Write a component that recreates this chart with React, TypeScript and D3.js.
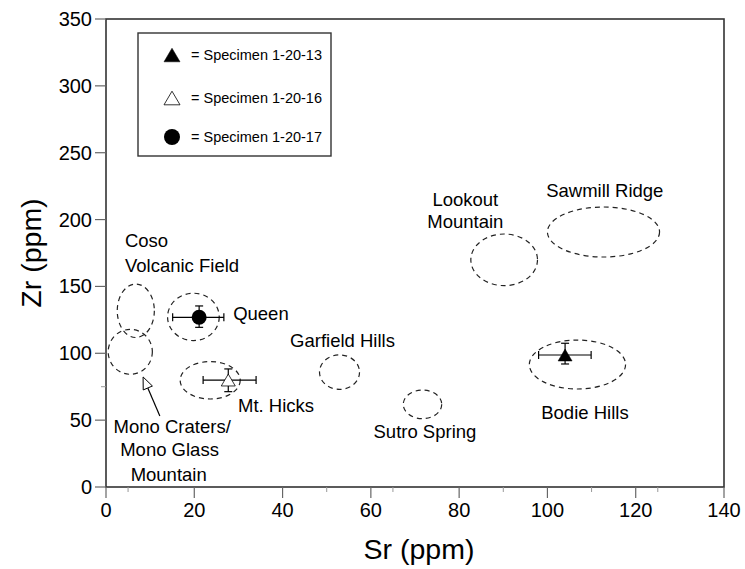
import React from "react";
import * as d3 from "d3";

const W = 745, H = 569;
const margin = { left: 106, right: 21, top: 19, bottom: 82 };

const xTicks = [0, 20, 40, 60, 80, 100, 120, 140];
const yTicks = [0, 50, 100, 150, 200, 250, 300, 350];
const xMinorTicks = [5, 50, 65, 90, 110, 125];
const yMinorTicks = [75];

// Source fields (dashed ellipses): center Sr, center Zr, radius Sr, radius Zr
const fieldNames = ["Coso", "Mono Craters", "Queen", "Mt. Hicks", "Garfield Hills", "Sutro Spring", "Lookout Mountain", "Sawmill Ridge", "Bodie Hills"];
const fieldSr = [6.75, 5.5, 19.8, 23.6, 52.9, 71.7, 90.2, 112.7, 106.8];
const fieldZr = [131.8, 101.1, 127.2, 79.8, 85.9, 61.8, 169.9, 190.7, 91.6];
const fieldRSr = [4.2, 5.0, 5.85, 6.8, 4.53, 4.35, 7.55, 12.7, 10.9];
const fieldRZr = [20, 16.8, 17.7, 14, 12.9, 10.7, 19.3, 18.7, 18.3];

// Specimens
const specNames = ["Specimen 1-20-13", "Specimen 1-20-16", "Specimen 1-20-17"];
const specSymbol = ["triFill", "triOpen", "circle"];
const specSr = [104, 27.7, 21.1];
const specZr = [98.7, 80, 126.9];
const specSrLo = [98.0, 22.0, 15.1];
const specSrHi = [109.9, 34.0, 26.7];
const specZrLo = [92, 71.3, 119.4];
const specZrHi = [107.5, 88.3, 135.4];

// Labels: text, Sr, Zr, anchor
const labelText = ["Coso", "Volcanic Field", "Queen", "Garfield Hills", "Mt. Hicks", "Mono Craters/", "Mono Glass", "Mountain", "Sutro Spring", "Bodie Hills", "Lookout", "Mountain", "Sawmill Ridge"];
const labelSr = [4.3, 4.3, 28.8, 41.7, 29.9, 15.0, 14.4, 14.2, 60.6, 98.6, 81.4, 81.4, 113];
const labelZr = [184, 166, 129.4, 109.2, 61.3, 45.6, 27.7, 9.7, 41.4, 56, 215.1, 198.4, 222];
const labelAnchor = ["start", "start", "start", "start", "start", "middle", "middle", "middle", "start", "start", "middle", "middle", "middle"];

// Arrow (Mono Craters label -> field)
const arrowFrom = [12.2, 53.1];
const arrowTo = [8.4, 82.3];

const FONT = "'Liberation Sans', Arial, Helvetica, sans-serif";

function Symbol({ type, cx, cy, size }: { type: string; cx: number; cy: number; size: number }) {
  if (type === "circle") {
    return <circle cx={cx} cy={cy} r={size / 2} fill="#000" />;
  }
  const h = size * 0.85;
  const pts = `${cx - size / 2},${cy + h / 2} ${cx + size / 2},${cy + h / 2} ${cx},${cy - h / 2}`;
  return (
    <polygon
      points={pts}
      fill={type === "triFill" ? "#000" : "#fff"}
      stroke="#000"
      strokeWidth={type === "triFill" ? 0.5 : 0.8}
    />
  );
}

export default function App() {
  const x = d3.scaleLinear().domain([0, 140]).range([margin.left, W - margin.right]);
  const y = d3.scaleLinear().domain([0, 350]).range([H - margin.bottom, margin.top]);
  const x0 = x(0), x1 = x(140), y0 = y(0), y1 = y(350);
  const frameColor = "#333";

  // arrow geometry
  const ax1 = x(arrowFrom[0]), ay1 = y(arrowFrom[1]);
  const ax2 = x(arrowTo[0]), ay2 = y(arrowTo[1]);
  const ang = Math.atan2(ay2 - ay1, ax2 - ax1);
  const headL = 12, headW = 5;
  const bx = ax2 - headL * Math.cos(ang), by = ay2 - headL * Math.sin(ang);
  const px = -Math.sin(ang), py = Math.cos(ang);
  const headPts = `${ax2},${ay2} ${bx + headW * px},${by + headW * py} ${bx - headW * px},${by - headW * py}`;

  const cap = 4;

  return (
    <svg width={W} height={H} style={{ display: "block", position: "absolute", left: 0, top: 0, background: "#fff" }} fontFamily={FONT}>
      <rect x={0} y={0} width={W} height={H} fill="#fff" />
      {/* frame */}
      <rect x={x0} y={y1} width={x1 - x0} height={y0 - y1} fill="none" stroke={frameColor} strokeWidth={1.6} />

      {/* x ticks */}
      {xTicks.map((t) => (
        <g key={"xt" + t}>
          <line x1={x(t)} x2={x(t)} y1={y0} y2={y0 + 11} stroke="#666" strokeWidth={1.2} />
          <text x={x(t)} y={y0 + 23} fontSize={20} textAnchor="middle" dy="0.35em" fill="#000">{t}</text>
        </g>
      ))}
      {xMinorTicks.map((t) => (
        <line key={"xm" + t} x1={x(t)} x2={x(t)} y1={y0} y2={y0 + 5} stroke="#999" strokeWidth={1} />
      ))}
      {/* y ticks */}
      {yTicks.map((t) => (
        <g key={"yt" + t}>
          <line x1={x0 - 11} x2={x0} y1={y(t)} y2={y(t)} stroke="#666" strokeWidth={1.2} />
          <text x={x0 - 14} y={y(t)} fontSize={20} textAnchor="end" dy="0.35em" fill="#000">{t}</text>
        </g>
      ))}
      {yMinorTicks.map((t) => (
        <line key={"ym" + t} x1={x0 - 5} x2={x0} y1={y(t)} y2={y(t)} stroke="#999" strokeWidth={1} />
      ))}

      {/* axis titles */}
      <text x={(x0 + x1) / 2 + 4} y={549} fontSize={28.5} textAnchor="middle" dy="0.35em" fill="#000">Sr (ppm)</text>
      <text transform={`translate(31,${(y0 + y1) / 2}) rotate(-90)`} fontSize={28.5} textAnchor="middle" dy="0.35em" fill="#000">Zr (ppm)</text>

      {/* fields */}
      {fieldNames.map((n, i) => (
        <ellipse
          key={"f" + i}
          cx={x(fieldSr[i])}
          cy={y(fieldZr[i])}
          rx={x(fieldRSr[i]) - x(0)}
          ry={y(0) - y(fieldRZr[i])}
          fill="none"
          stroke="#222"
          strokeWidth={1.2}
          strokeDasharray="5,4"
        />
      ))}

      {/* labels */}
      {labelText.map((t, i) => (
        <text key={"l" + i} x={x(labelSr[i])} y={y(labelZr[i])} fontSize={18.5} textAnchor={labelAnchor[i] as any} dy="0.35em" fill="#000">{t}</text>
      ))}

      {/* arrow */}
      <line x1={ax1} y1={ay1} x2={bx} y2={by} stroke="#000" strokeWidth={1.2} />
      <polygon points={headPts} fill="#fff" stroke="#000" strokeWidth={1} />

      {/* specimens with error bars */}
      {specNames.map((n, i) => {
        const cx = x(specSr[i]), cy = y(specZr[i]);
        const xl = x(specSrLo[i]), xh = x(specSrHi[i]);
        const yl = y(specZrLo[i]), yh = y(specZrHi[i]);
        return (
          <g key={"s" + i}>
            <line x1={xl} x2={xh} y1={cy} y2={cy} stroke="#000" strokeWidth={1.2} />
            <line x1={xl} x2={xl} y1={cy - cap} y2={cy + cap} stroke="#000" strokeWidth={1.2} />
            <line x1={xh} x2={xh} y1={cy - cap} y2={cy + cap} stroke="#000" strokeWidth={1.2} />
            <line x1={cx} x2={cx} y1={yl} y2={yh} stroke="#000" strokeWidth={1.2} />
            <line x1={cx - cap} x2={cx + cap} y1={yl} y2={yl} stroke="#000" strokeWidth={1.2} />
            <line x1={cx - cap} x2={cx + cap} y1={yh} y2={yh} stroke="#000" strokeWidth={1.2} />
            <Symbol type={specSymbol[i]} cx={cx} cy={cy} size={specSymbol[i] === "circle" ? 15 : 14} />
          </g>
        );
      })}

      {/* legend */}
      <rect x={138} y={33} width={193} height={123} fill="#fff" stroke={frameColor} strokeWidth={1.4} />
      {specNames.map((n, i) => {
        const ly = [55, 98, 137][i];
        return (
          <g key={"lg" + i}>
            <Symbol type={specSymbol[i]} cx={172} cy={ly} size={16} />
            <text x={191} y={ly} fontSize={14.5} dy="0.35em" fill="#000">= {n}</text>
          </g>
        );
      })}
    </svg>
  );
}
